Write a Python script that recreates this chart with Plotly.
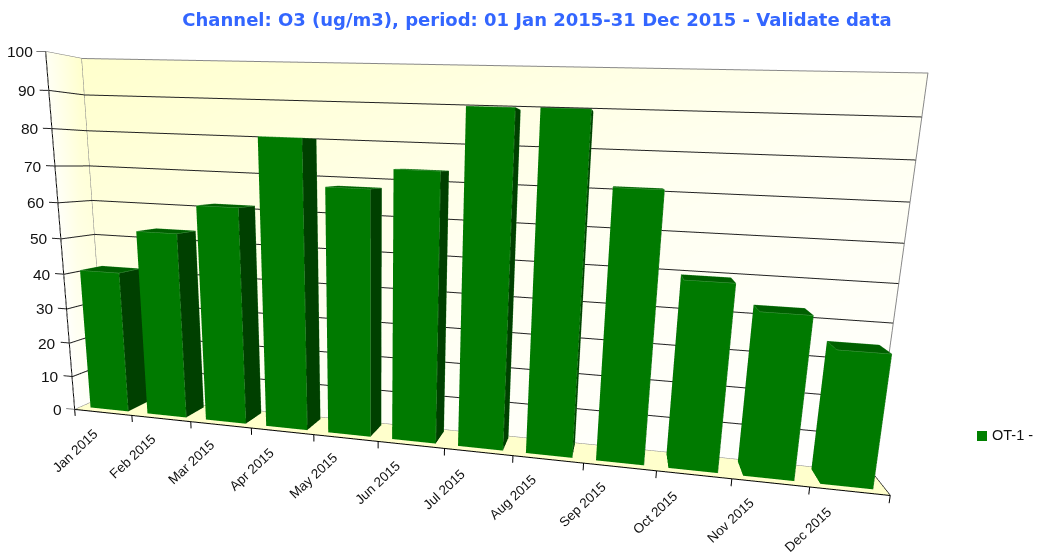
import plotly.graph_objects as go

months = ["Jan 2015","Feb 2015","Mar 2015","Apr 2015","May 2015","Jun 2015","Jul 2015","Aug 2015","Sep 2015","Oct 2015","Nov 2015","Dec 2015"]
values = [40.9,53.0,61.0,79.9,67.6,72.9,89.0,89.1,70.7,49.1,42.5,34.5]
yticks = [0,10,20,30,40,50,60,70,80,90,100]
series_name = "OT-1 -"
title_text = "Channel: O3 (ug/m3), period: 01 Jan 2015-31 Dec 2015 - Validate data"

XR=(-0.6,12.2); YR=(-0.05,1.05); ZR=(-3.0,101.0)
b0,b1,d0,d1=.167,.833,.2,.873
eye=dict(x=0.4487,y=-1.6176,z=0.2652)
center=dict(x=0.1747,y=0.1745,z=-0.0520)
up=dict(x=-0.0405,y=0.0144,z=0.9991)
aspect=dict(x=2.2776,y=0.1267,z=1)

def box(x0,x1,y0,y1,z1):
    return [x0,x1,x1,x0,x0,x1,x1,x0],[y0,y0,y1,y1,y0,y0,y1,y1],[0,0,0,0,z1,z1,z1,z1]
fig=go.Figure()
I=[0,0,4,4,1,1,3,3,0,0];J=[1,5,5,6,2,6,2,6,3,7];K=[5,4,6,7,6,5,6,7,7,4]
FC=["#007A00"]*2+["#006000"]*2+["#004000"]*2+["#004000"]*2+["#007A00"]*2
xa=[];ya=[];za=[];ia=[];ja=[];ka=[];fc=[]
ex=[];ey=[];ez=[]
for n,v in enumerate(values):
    xs,ys,zs=box(n+b0,n+b1,d0,d1,v);o=len(xa)
    xa+=xs;ya+=ys;za+=zs;ia+=[o+a for a in I];ja+=[o+a for a in J];ka+=[o+a for a in K];fc+=FC
    for a,b in [(1,5),(4,5),(5,6),(6,7),(7,4),(2,6)]:
        ex+=[xs[a],xs[b],None];ey+=[ys[a],ys[b],None];ez+=[zs[a],zs[b],None]
LT=dict(ambient=1,diffuse=0,specular=0,roughness=1,fresnel=0)
fig.add_trace(go.Mesh3d(x=xa,y=ya,z=za,i=ia,j=ja,k=ka,facecolor=fc,flatshading=True,lighting=LT,name=series_name,showlegend=False,hoverinfo="skip"))
wx=[0,12,12,0, 0,0,0,0, 0,12,12,0]
wy=[1,1,1,1, 0,1,1,0, 0,0,1,1]
wz=[0,0,100,100, 0,0,100,100, 0,0,0,0]
vc=["#FFFFF0","#FFFFFF","#FFFFF0","#FFFFCC", "#FFFFFF","#FFFFF0","#FFFFCC","#FFFFF4", "#FFFFCC","#FFFFCC","#FFFFCC","#FFFFCC"]
fig.add_trace(go.Mesh3d(x=wx,y=wy,z=wz,i=[0,0,4,4,8,8],j=[1,2,5,6,9,10],k=[2,3,6,7,10,11],vertexcolor=vc,lighting=LT,showlegend=False,hoverinfo="skip"))
def seg(X,Y,Z,c,w=2):
    fig.add_trace(go.Scatter3d(x=X,y=Y,z=Z,mode="lines",line=dict(color=c,width=w),showlegend=False,hoverinfo="skip"))
seg(ex,ey,ez,"#4FA04F",1)
gx=[];gy=[];gz=[]
for t in yticks[1:-1]:
    gx+=[-.15,0.01,0.01,12,None];gy+=[0,0,.995,.995,None];gz+=[t,t,t,t,None]
seg(gx,gy,gz,"#222222",2)
seg([-.15,0.01,0.01,12],[0,0,.995,.995],[0,0,0,0],"#888888",2)
seg([0,0,12,12],[.995,.995,.995,.995],[0,100,100,0],"#888888",2)
seg([-.15,0,0],[0,0,.995],[100,100,100],"#777777",2)
seg([0,0,12,12],[0,0,0,1],[100,0,0,0],"#000000",2)
tx=[];ty=[];tz=[]
for n in range(13):
    tx+=[n,n,None];ty+=[0,0,None];tz+=[0,-2,None]
seg(tx,ty,tz,"#000000",2)
ann=[dict(x=0,y=0,z=t,text=str(t),showarrow=False,xanchor="right",yanchor="middle",xshift=-11,font=dict(family="Liberation Sans",size=15.5,color="#111")) for t in yticks]
ann+=[dict(x=n,y=0,z=-3,text=m,showarrow=False,textangle=-43,xanchor="center",yanchor="middle",xshift=0,yshift=-31,font=dict(family="Liberation Sans",size=13.5,color="#111")) for n,m in enumerate(months)]
hid=dict(visible=False)
fig.update_layout(width=1037,height=552,margin=dict(l=0,r=0,t=0,b=0),paper_bgcolor="white",showlegend=False,
 title=dict(text=title_text,font=dict(size=18,family="DejaVu Sans",color="#3366FF",weight="bold"),x=537/1037,xanchor="center",y=1-20/552,yanchor="middle"),
 shapes=[dict(type="rect",xref="paper",yref="paper",x0=977/1037,x1=987/1037,y0=1-441/552,y1=1-431/552,fillcolor="#008000",line_width=0)],
 annotations=[dict(xref="paper",yref="paper",x=990/1037,y=1-435/552,text=series_name,showarrow=False,xanchor="left",yanchor="middle",font=dict(family="Liberation Sans",size=14.5,color="#111"))],
 scene=dict(domain=dict(x=[0,1],y=[0,1]),dragmode="orbit",aspectmode="manual",aspectratio=aspect,
  xaxis=dict(range=XR,**hid),yaxis=dict(range=YR,**hid),zaxis=dict(range=ZR,**hid),
  camera=dict(eye=eye,center=center,up=up,projection=dict(type="perspective")),annotations=ann))
fig.write_html("out.html",post_script="document.body.style.margin='0';",config=dict(displayModeBar=False))
